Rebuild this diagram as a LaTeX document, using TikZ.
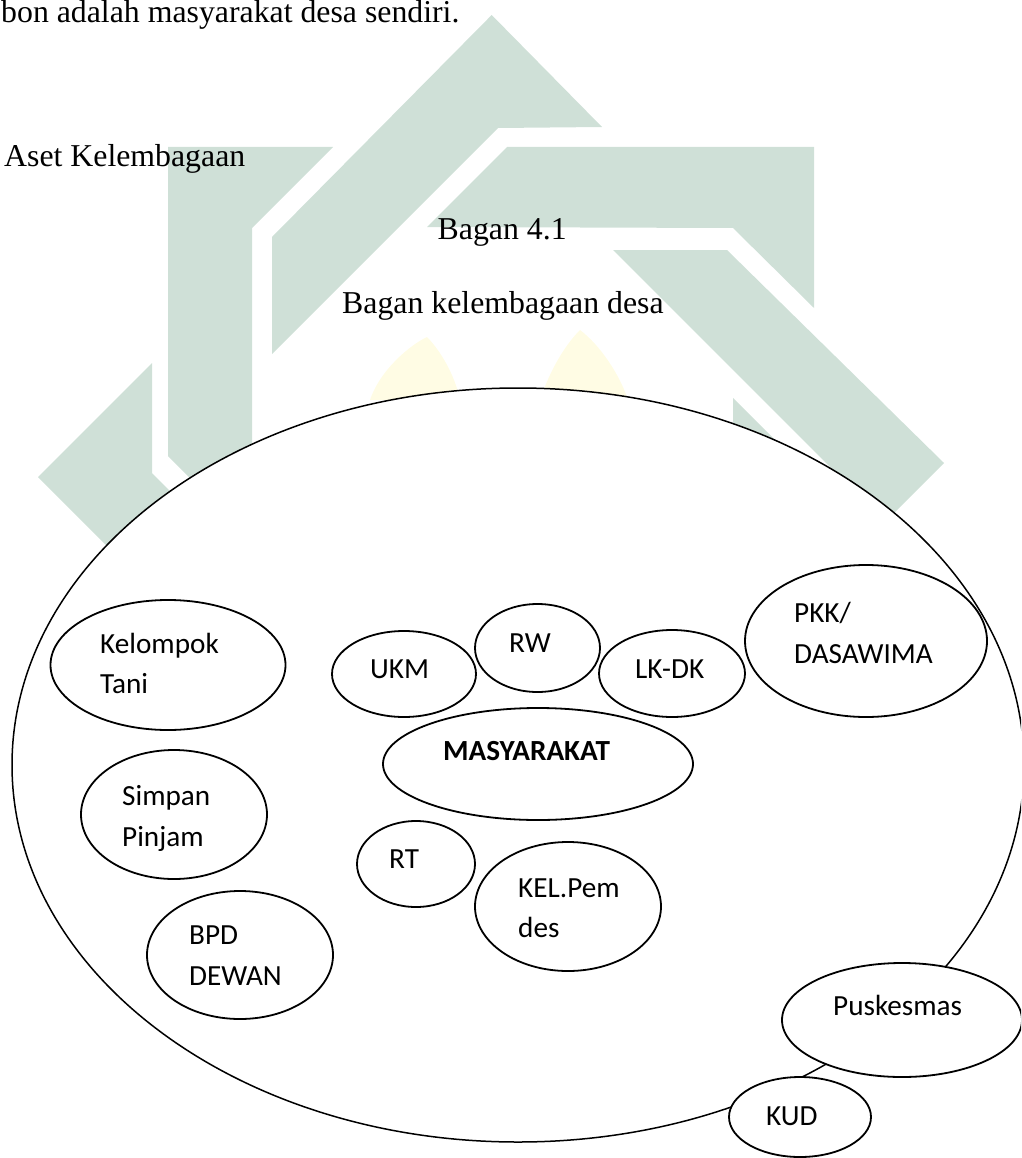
\documentclass[tikz,border=0pt]{standalone}
\usepackage{fontspec}
\setmainfont{Liberation Serif}
\newfontfamily\carlito{Carlito}
\usetikzlibrary{shapes.geometric}
\definecolor{wmgreen}{RGB}{207,224,215}
\definecolor{wmyellow}{RGB}{255,252,228}
\tikzset{
  wm/.style={fill=wmgreen, draw=none},
  wmy/.style={fill=wmyellow, draw=none},
  body/.style={font=\fontsize{31.8}{38}\selectfont, inner sep=0pt, anchor=base west},
  lbl/.style={font=\carlito\fontsize{29.2}{35}\selectfont, inner sep=0pt, anchor=base west},
  org/.style={ellipse, draw, line width=1.8pt, inner sep=0pt},
  orgw/.style={org, fill=white},
}
\begin{document}
\begin{tikzpicture}[x=1pt,y=-1pt]
\useasboundingbox (0,0) rectangle (1021,1158);
\clip (0,0) rectangle (1021,1158);
% watermark
\fill[wm] (168,147) -- (333,147) -- (252,228) -- (252,540) -- (168,456) -- cycle;
\fill[wm] (152,363) -- (38,477) -- (140,579) -- (210,531) -- (152,473) -- cycle;
\fill[wm] (491.7,15) -- (602,127) -- (498,128) -- (272,354) -- (272,237) -- cycle;
\fill[wm] (507,147) -- (814,147) -- (814,308) -- (733,228) -- (427,227) -- cycle;
\fill[wm] (613,250) -- (727,250) -- (944,463) -- (885,522) -- cycle;
\fill[wm] (733,398) -- (850,515) -- (850,600) -- (733,600) -- cycle;
\fill[wmy] (427,337) .. controls (440,350) and (455,375) .. (460,400) -- (370,400) .. controls (380,370) and (410,345) .. (427,337) -- cycle;
\fill[wmy] (580,330) .. controls (600,345) and (620,375) .. (628,400) -- (540,400) .. controls (550,370) and (565,345) .. (580,330) -- cycle;
% big ellipse
\node[ellipse, draw, line width=1.5pt, fill=white, inner sep=0pt, minimum width=1012pt, minimum height=754pt] (desa) at (518,765) {};
% inner ellipses
\node[org, minimum width=235pt, minimum height=130pt] (tani) at (168,665) {};
\node[org, minimum width=144pt, minimum height=86pt] (ukm) at (404,674) {};
\node[org, minimum width=125pt, minimum height=88pt] (rw) at (537.5,648) {};
\node[org, minimum width=146pt, minimum height=87pt] (lkdk) at (672,673.5) {};
\node[org, minimum width=242pt, minimum height=152pt] (pkk) at (866,641) {};
\node[org, minimum width=310pt, minimum height=112pt] (masy) at (538,764) {};
\node[org, minimum width=186pt, minimum height=129pt] (simpan) at (174,814.5) {};
\node[org, minimum width=118pt, minimum height=86pt] (rt) at (416,864) {};
\node[org, minimum width=186pt, minimum height=129pt] (kel) at (568,906.5) {};
\node[org, minimum width=186pt, minimum height=128pt] (bpd) at (240,955) {};
\node[orgw, minimum width=240pt, minimum height=114pt] (pusk) at (902,1020) {};
\node[orgw, minimum width=142pt, minimum height=80pt] (kud) at (800,1117) {};
% body text
\node[body] (t0) at (1,23) {bon adalah masyarakat desa sendiri.};
\node[body] (t1) at (4,167) {Aset Kelembagaan};
\node[body] (t2) at (437.5,240) {Bagan 4.1};
\node[body] (t3) at (342,313) {Bagan kelembagaan desa};
% labels
\node[lbl] (l1a) at (100,653) {Kelompok};
\node[lbl] (l1b) at (100,693) {Tani};
\node[lbl] (l2) at (370,678) {UKM};
\node[lbl] (l3) at (509,652) {RW};
\node[lbl] (l4) at (635,678) {LK-DK};
\node[lbl] (l5a) at (794,622) {PKK/};
\node[lbl] (l5b) at (794,663) {DASAWIMA};
\node[lbl, font=\carlito\bfseries\fontsize{29.2}{35}\selectfont] (l6) at (443,760) {MASYARAKAT};
\node[lbl] (l7a) at (122,805) {Simpan};
\node[lbl] (l7b) at (122,846) {Pinjam};
\node[lbl] (l8) at (389,868) {RT};
\node[lbl] (l9a) at (518,897) {KEL.Pem};
\node[lbl] (l9b) at (518,937) {des};
\node[lbl] (l10a) at (189,944) {BPD};
\node[lbl] (l10b) at (189,985) {DEWAN};
\node[lbl] (l11) at (833,1015) {Puskesmas};
\node[lbl] (l12) at (766,1125) {KUD};
\end{tikzpicture}
\end{document}
